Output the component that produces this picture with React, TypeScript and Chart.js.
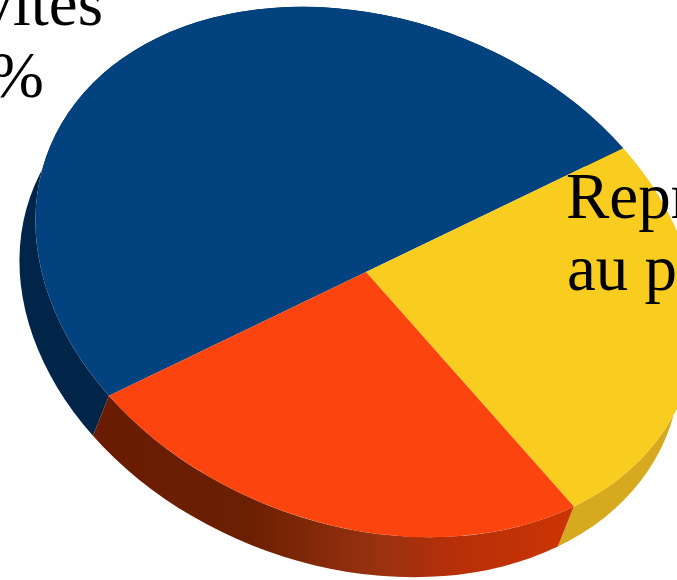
import React, { useEffect, useRef } from "react";
import { Chart, registerables } from "chart.js";

Chart.register(...registerables);

const categories = ["Invités", "Représentants", "Autres"];
const shares = [50, 25, 25];
const topColors = ["#02427e", "#f8cd1f", "#fb440e"];
const sideColors = ["#012449", "#d6a91e", "#6a1c02"];
const redSideStops: [number, string][] = [
  [0, "#6a1c02"],
  [0.33, "#6b2002"],
  [0.6, "#993210"],
  [0.75, "#b62f08"],
  [1, "#cc3505"],
];
const visibleText: [string, number, number, CanvasTextAlign][] = [
  ["vites", 103, 25, "right"],
  ["%", 44, 97, "right"],
  ["Repr", 566, 218, "left"],
  ["au p", 567, 290, "left"],
];

const CX = 366;
const CY = 272;
const MAJOR = 340;
const MINOR = 253;
const TILT = (20.5 * Math.PI) / 180;
const DEPTH_X = -16;
const DEPTH_Y = 40;

function tilt(ctx: CanvasRenderingContext2D, arc: any, dx: number, dy: number) {
  const R = arc.outerRadius;
  ctx.setTransform(1, 0, 0, 1, 0, 0);
  ctx.translate(CX + dx, CY + dy);
  ctx.rotate(TILT);
  ctx.scale(MAJOR / R, MINOR / R);
  ctx.translate(-arc.x, -arc.y);
}

const tiltPlugin = {
  id: "tilt",
  beforeDatasetsDraw(chart: any) {
    const ctx: CanvasRenderingContext2D = chart.ctx;
    const arcs = chart.getDatasetMeta(0).data;
    ctx.save();
    arcs.forEach((arc: any, i: number) => {
      ctx.beginPath();
      tilt(ctx, arc, 0, 0);
      ctx.arc(arc.x, arc.y, arc.outerRadius, arc.startAngle, arc.endAngle);
      tilt(ctx, arc, DEPTH_X, DEPTH_Y);
      ctx.arc(arc.x, arc.y, arc.outerRadius, arc.endAngle, arc.startAngle, true);
      ctx.closePath();
      ctx.setTransform(1, 0, 0, 1, 0, 0);
      if (i === 2) {
        const g = ctx.createLinearGradient(92, 0, 572, 0);
        redSideStops.forEach(([p, c]) => g.addColorStop(p, c));
        ctx.fillStyle = g;
      } else {
        ctx.fillStyle = sideColors[i];
      }
      ctx.fill();
    });
    tilt(ctx, arcs[0], 0, 0);
  },
  afterDatasetsDraw(chart: any) {
    chart.ctx.restore();
  },
  afterDraw(chart: any) {
    const ctx: CanvasRenderingContext2D = chart.ctx;
    ctx.save();
    ctx.fillStyle = "#000";
    ctx.font = '65px "Liberation Serif"';
    ctx.textBaseline = "alphabetic";
    visibleText.forEach(([t, x, y, a]) => {
      ctx.textAlign = a;
      ctx.fillText(t, x, y);
    });
    ctx.restore();
  },
};

export default function App() {
  const ref = useRef<HTMLCanvasElement>(null);
  useEffect(() => {
    const chart = new Chart(ref.current!, {
      type: "pie",
      data: {
        labels: categories,
        datasets: [
          {
            data: shares,
            backgroundColor: topColors,
            borderWidth: 0,
            clip: false,
          } as any,
        ],
      },
      options: {
        animation: false,
        responsive: false,
        devicePixelRatio: 1,
        rotation: 215.5,
        plugins: { legend: { display: false }, tooltip: { enabled: false } },
      },
      plugins: [tiltPlugin],
    } as any);
    return () => chart.destroy();
  }, []);
  return (
    <div style={{ position: "fixed", left: 0, top: 0, width: 677, height: 580, background: "#fff" }}>
      <canvas ref={ref} width={677} height={580} style={{ display: "block" }} />
    </div>
  );
}
